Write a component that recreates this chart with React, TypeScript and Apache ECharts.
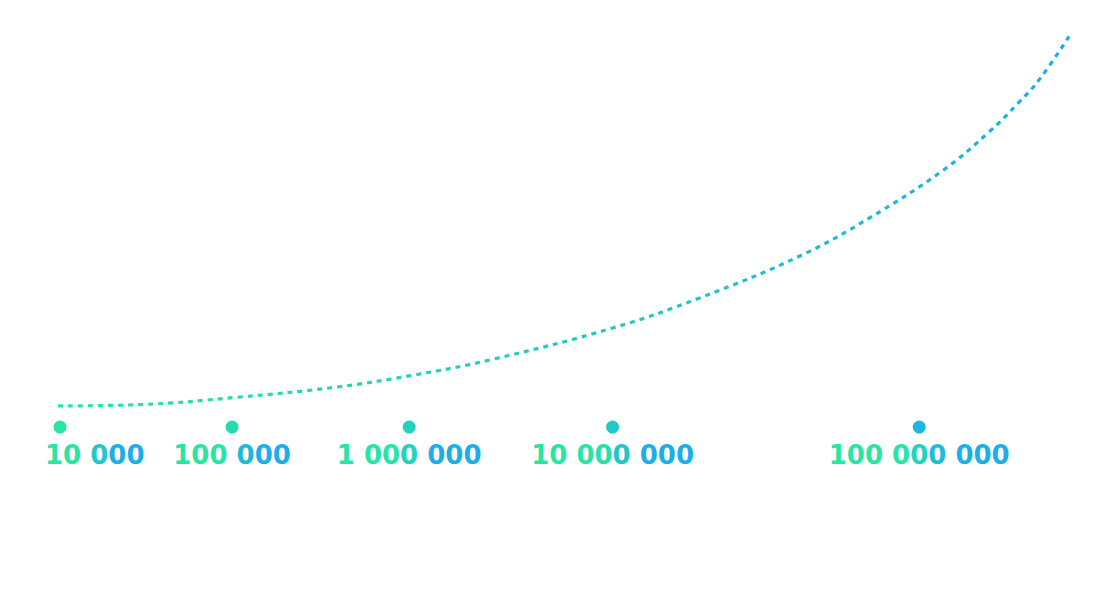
import React, { useEffect, useRef } from "react";
import * as echarts from "echarts";

// Growth curve (abstract position 0–100 along x, growth 0–100 along y)
const curveX = [0, 8.1, 18, 27.6, 34.7, 42.7, 54.8, 63.4, 73.3, 80.2, 87.5, 92.1, 94.9, 97, 100];
const curveY = [0, 0.35, 2.4, 5.1, 8.1, 12.4, 21.0, 29.1, 40.4, 50.7, 63.6, 74.1, 81.7, 88.1, 100];

// Milestone markers
const markerX = [0.2, 17.2, 34.7, 54.8, 85.1];
const markerLabels = ["10 000", "100 000", "1 000 000", "10 000 000", "100 000 000"];
const markerLevel = -5.7;

const GREEN = [40, 229, 163];
const BLUE = [28, 174, 232];
const toHex = (c: number[]) =>
  "#" + c.map((v) => Math.round(v).toString(16).padStart(2, "0")).join("");

const FONT = { fontFamily: "DejaVu Sans", fontWeight: "bold" as const, fontSize: 26 };

// colour of the text gradient (left→right across each label)
function gradAt(f: number) {
  const a = 0.42, b = 0.66;
  const t = Math.min(1, Math.max(0, (f - a) / (b - a)));
  return toHex(GREEN.map((g, i) => g + (BLUE[i] - g) * t));
}

export default function App() {
  const ref = useRef<HTMLDivElement>(null);

  useEffect(() => {
    if (!ref.current) return;
    const chart = echarts.init(ref.current, null, { renderer: "svg" });

    const rich: Record<string, any> = {};
    const colorKeys: Record<string, string> = {};
    const formatted: string[] = markerLabels.map((label) => {
      const w = label.split("").map((ch) => (ch === " " ? 0.5 : 1));
      const total = w.reduce((s, v) => s + v, 0);
      let acc = 0;
      const runs: { color: string; text: string }[] = [];
      label.split("").forEach((ch, i) => {
        const f = (acc + w[i] / 2) / total;
        acc += w[i];
        const color = gradAt(f);
        const last = runs[runs.length - 1];
        if (last && (last.color === color || ch === " ")) last.text += ch;
        else runs.push({ color, text: ch });
      });
      return runs
        .map((r) => {
          if (!colorKeys[r.color]) {
            const key = "c" + Object.keys(colorKeys).length;
            colorKeys[r.color] = key;
            rich[key] = { ...FONT, color: r.color };
          }
          return `{${colorKeys[r.color]}|${r.text}}`;
        })
        .join("");
    });

    const curveData = curveX.map((x, i) => [x, curveY[i]]);
    const markerData = markerX.map((x, i) => ({
      value: [x, markerLevel],
      name: markerLabels[i],
      label: i === 0 ? { align: "left", offset: [-15, 0] } : undefined,
    }));

    chart.setOption({
      animation: false,
      backgroundColor: "#ffffff",
      grid: { left: 58, right: 40, top: 35, bottom: 147 },
      xAxis: { type: "value", min: 0, max: 100, show: false },
      yAxis: { type: "value", min: -10, max: 100, show: false },
      visualMap: {
        type: "continuous",
        show: false,
        dimension: 0,
        min: 0,
        max: 100,
        seriesIndex: [0, 1],
        inRange: { color: [toHex(GREEN), toHex(BLUE)] },
      },
      series: [
        {
          type: "line",
          data: curveData,
          smooth: 0.4,
          showSymbol: false,
          symbol: "none",
          silent: true,
          lineStyle: { width: 3.2, type: [5, 5], cap: "butt" },
        },
        {
          type: "scatter",
          data: markerData,
          symbolSize: 13,
          itemStyle: { opacity: 1 },
          label: {
            show: true,
            position: "bottom",
            distance: 8,
            formatter: (p: any) => formatted[p.dataIndex],
            ...FONT,
            rich,
          },
        },
      ],
    });

    return () => chart.dispose();
  }, []);

  return (
    <div
      ref={ref}
      style={{ position: "absolute", left: 0, top: 0, width: 1110, height: 590 }}
    />
  );
}
